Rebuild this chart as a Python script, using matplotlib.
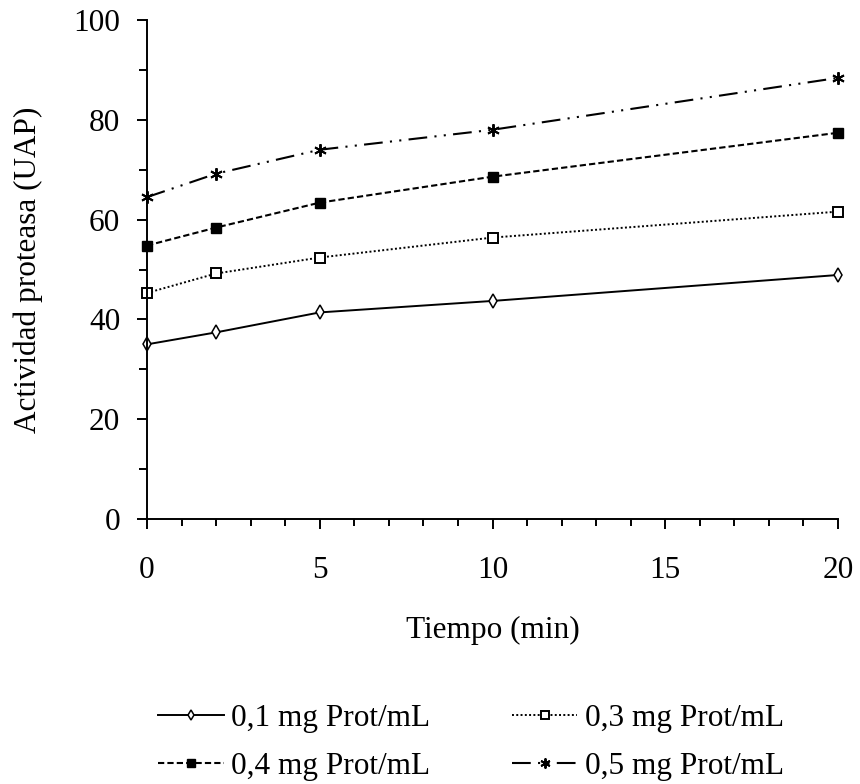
import matplotlib
matplotlib.use("Agg")
import matplotlib.pyplot as plt
from matplotlib.ticker import MultipleLocator

plt.rcParams["font.family"] = ["Liberation Serif", "DejaVu Serif"]

# Datos
tiempo = [0, 2, 5, 10, 20]
act_01 = [35.0, 37.4, 41.4, 43.7, 48.9]
act_03 = [45.3, 49.2, 52.4, 56.4, 61.6]
act_04 = [54.8, 58.4, 63.4, 68.6, 77.4]
act_05 = [64.5, 69.2, 74.0, 78.0, 88.4]

etiquetas = ["0,1 mg Prot/mL", "0,3 mg Prot/mL", "0,4 mg Prot/mL", "0,5 mg Prot/mL"]

FS = 22.5
W, H = 860, 784

fig = plt.figure(figsize=(W / 100, H / 100), dpi=100)
ax = fig.add_axes([147 / W, 1 - 519 / H, 691 / W, 499 / H])

l1, = ax.plot(tiempo, act_01, color="black", lw=1.4, ls="-",
              marker="d", ms=7, mfc="white", mec="black", mew=1.1)
l2, = ax.plot(tiempo, act_03, color="black", lw=1.4, ls=(0, (1, 1.2)),
              marker="s", ms=7, mfc="white", mec="black", mew=1.4)
l3, = ax.plot(tiempo, act_04, color="black", lw=1.5, ls=(0, (3, 1.5)),
              marker="s", ms=6.5, mfc="black", mec="black")
l4, = ax.plot(tiempo, act_05, color="black", lw=1.5, ls=(0, (9, 3.5, 1, 3.5, 1, 3.5)),
              marker=(6, 2, 0), ms=9, mec="black", mew=1.4)

ax.set_xlim(0, 20)
ax.set_ylim(0, 100)
ax.xaxis.set_major_locator(MultipleLocator(5))
ax.xaxis.set_minor_locator(MultipleLocator(1))
ax.yaxis.set_major_locator(MultipleLocator(20))
ax.yaxis.set_minor_locator(MultipleLocator(10))

for s in ["top", "right"]:
    ax.spines[s].set_visible(False)
for s in ["left", "bottom"]:
    ax.spines[s].set_linewidth(1.4)

ax.tick_params(which="major", direction="out", length=7.2, width=1.4, labelsize=FS)
ax.tick_params(axis="x", which="minor", direction="out", length=5, width=1.4)
ax.tick_params(axis="y", which="minor", direction="out", length=5.8, width=1.4)
ax.tick_params(axis="x", which="major", pad=19.5)
ax.tick_params(axis="y", which="major", pad=12)

ax.set_xlabel("Tiempo (min)", fontsize=FS, labelpad=22)
ax.set_ylabel("Actividad proteasa (UAP)", fontsize=FS, labelpad=22)

for ln in (l1, l2, l3, l4):
    ln.set_clip_on(False)

# orden por filas: 0,1 | 0,3 ; 0,4 | 0,5
fig.legend([l1, l3, l2, l4], [etiquetas[0], etiquetas[2], etiquetas[1], etiquetas[3]],
           loc="upper left", bbox_to_anchor=(158 / W, 1 - 704 / H), ncol=2,
           frameon=False, fontsize=FS, borderpad=0, borderaxespad=0,
           handlelength=2.1, handletextpad=0.25, columnspacing=2.6,
           labelspacing=0.6, markerscale=0.8)

fig.savefig("out.png", dpi=100)
